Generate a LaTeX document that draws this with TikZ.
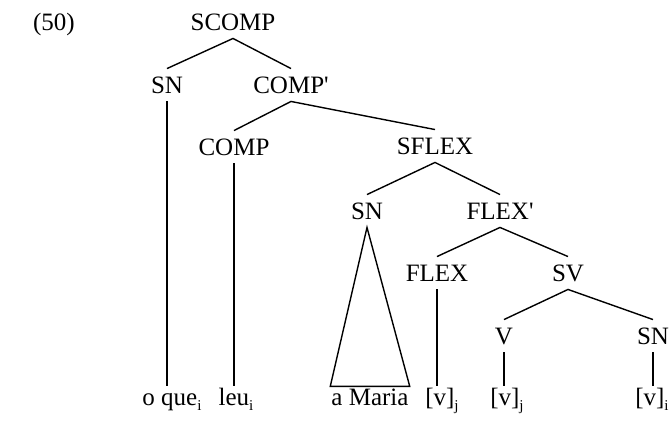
\documentclass[tikz,border=0pt]{standalone}
\usepackage{fontspec}
\setmainfont{Liberation Serif}
\usepackage{tikz}

\newcommand{\idx}[1]{\raisebox{-5pt}{\fontsize{15}{15}\selectfont #1}}
\newcommand{\barmark}{\textquotesingle}

\begin{document}
\begin{tikzpicture}[
  x=1pt, y=-1pt,
  every node/.style={font=\fontsize{25}{28}\selectfont, text height=16.5pt, text depth=0pt, inner xsep=1pt},
  cat/.style={inner ysep=8pt},
  leaf/.style={inner ysep=2pt, anchor=base},
  branch/.style={line width=1.4pt}
]
\useasboundingbox (0,0) rectangle (670,424);

\node[cat] (ex) at (54,22) {(50)};
\node[cat] (scomp) at (233,22) {SCOMP};
\node[cat] (sna) at (167,85) {SN};
\node[cat] (compbar) at (291,85) {COMP\barmark};
\node[cat] (comp) at (234,147) {COMP};
\node[cat] (sflex) at (435,146) {SFLEX};
\node[cat] (snb) at (367,211) {SN};
\node[cat] (flexbar) at (500,211) {FLEX\barmark};
\node[cat] (flex) at (437,273) {FLEX};
\node[cat] (sv) at (568,273) {SV};
\node[cat] (v) at (504,336) {V};
\node[cat] (snc) at (653,336) {SN};

\node[leaf] (oque) at (172,405) {o que\idx{i}};
\node[leaf] (leu) at (236,405) {leu\idx{i}};
\node[leaf] (maria) at (370,405) {a Maria};
\node[leaf] (va) at (442,405) {[v]\idx{j}};
\node[leaf] (vb) at (507,405) {[v]\idx{j}};
\node[leaf] (vc) at (652,405) {[v]\idx{i}};

\draw[branch] (sna.north) -- (scomp.south) -- (compbar.north);
\draw[branch] (comp.north) -- (compbar.south) -- (sflex.north);
\draw[branch] (snb.north) -- (sflex.south) -- (flexbar.north);
\draw[branch] (flex.north) -- (flexbar.south) -- (sv.north);
\draw[branch] (v.north) -- (sv.south) -- (snc.north);

\draw[branch] (sna.south) -- (sna.south |- oque.north);
\draw[branch] (comp.south) -- (comp.south |- leu.north);
\draw[branch] (flex.south) -- (flex.south |- va.north);
\draw[branch] (v.south) -- (v.south |- vb.north);
\draw[branch] (snc.south) -- (snc.south |- vc.north);
\draw[branch] (snb.south) -- (maria.north west) -- (maria.north east) -- cycle;
\end{tikzpicture}
\end{document}
